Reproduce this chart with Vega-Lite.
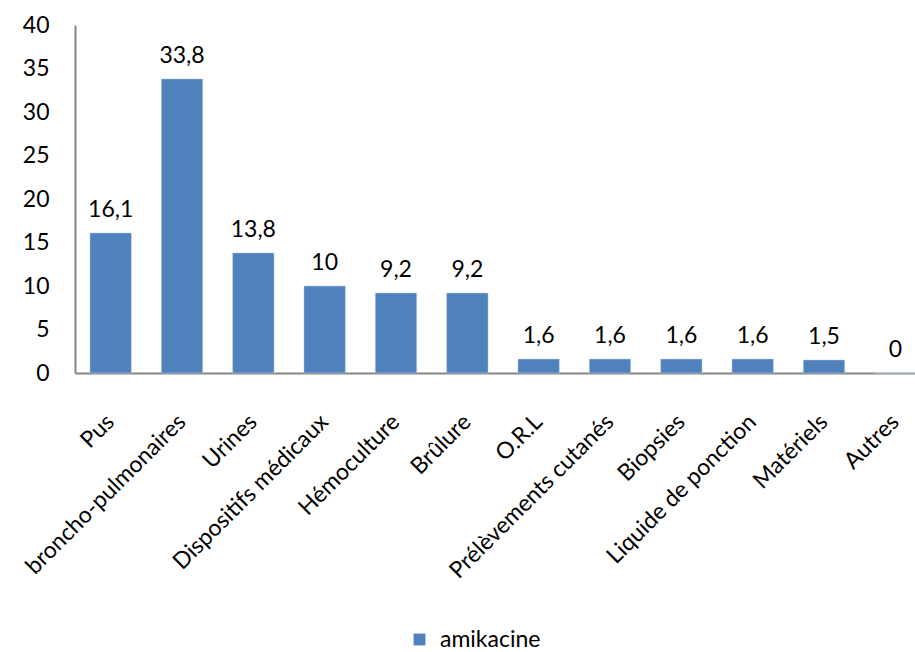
{
  "$schema": "https://vega.github.io/schema/vega-lite/v6.json",
  "width": 856,
  "height": 348,
  "autosize": {"type": "none"},
  "padding": {"left": 75, "top": 25, "right": 0, "bottom": 279},
  "background": "white",
  "config": {
    "font": "Lato",
    "view": {"stroke": null},
    "locale": {"number": {"decimal": ",", "thousands": " ", "grouping": [3], "currency": ["", " €"]}},
    "axis": {"labelFont": "Lato", "labelFontSize": 23, "labelColor": "#000000", "grid": false, "ticks": false, "domainColor": "#868686", "domainWidth": 2, "title": null}
  },
  "data": {
    "values": [
      {"prelevement": "Pus", "pourcentage": 16.1, "serie": "amikacine"},
      {"prelevement": "broncho-pulmonaires", "pourcentage": 33.8, "serie": "amikacine"},
      {"prelevement": "Urines", "pourcentage": 13.8, "serie": "amikacine"},
      {"prelevement": "Dispositifs médicaux", "pourcentage": 10, "serie": "amikacine"},
      {"prelevement": "Hémoculture", "pourcentage": 9.2, "serie": "amikacine"},
      {"prelevement": "Brûlure", "pourcentage": 9.2, "serie": "amikacine"},
      {"prelevement": "O.R.L", "pourcentage": 1.6, "serie": "amikacine"},
      {"prelevement": "Prélèvements cutanés", "pourcentage": 1.6, "serie": "amikacine"},
      {"prelevement": "Biopsies", "pourcentage": 1.6, "serie": "amikacine"},
      {"prelevement": "Liquide de ponction", "pourcentage": 1.6, "serie": "amikacine"},
      {"prelevement": "Matériels", "pourcentage": 1.5, "serie": "amikacine"},
      {"prelevement": "Autres", "pourcentage": 0, "serie": "amikacine"}
    ]
  },
  "encoding": {
    "x": {
      "field": "prelevement",
      "type": "nominal",
      "sort": null,
      "scale": {"paddingInner": 0.42, "paddingOuter": 0.21},
      "axis": {"labelAngle": -45, "labelAlign": "right", "labelBaseline": "middle", "labelPadding": 45, "labelLimit": 400}
    },
    "y": {
      "field": "pourcentage",
      "type": "quantitative",
      "scale": {"domain": [0, 40], "nice": false},
      "axis": {"values": [0, 5, 10, 15, 20, 25, 30, 35, 40], "labelPadding": 26}
    }
  },
  "layer": [
    {
      "mark": {"type": "bar", "stroke": "#bcd0e8", "strokeWidth": 0.5},
      "encoding": {
        "color": {
          "field": "serie",
          "type": "nominal",
          "scale": {"range": ["#4F81BD"]},
          "legend": {
            "title": null,
            "orient": "none",
            "legendX": 333,
            "legendY": 603,
            "direction": "horizontal",
            "symbolType": "square",
            "symbolSize": 140,
            "symbolStrokeWidth": 0,
            "labelFont": "Lato",
            "labelFontSize": 23,
            "labelColor": "#000000",
            "padding": 0,
            "labelOffset": 9
          }
        }
      }
    },
    {
      "mark": {"type": "text", "baseline": "alphabetic", "dy": -16, "fontSize": 23, "font": "Lato", "color": "#000000"},
      "encoding": {
        "text": {"field": "pourcentage", "type": "quantitative", "format": ".1~f"}
      }
    }
  ]
}
